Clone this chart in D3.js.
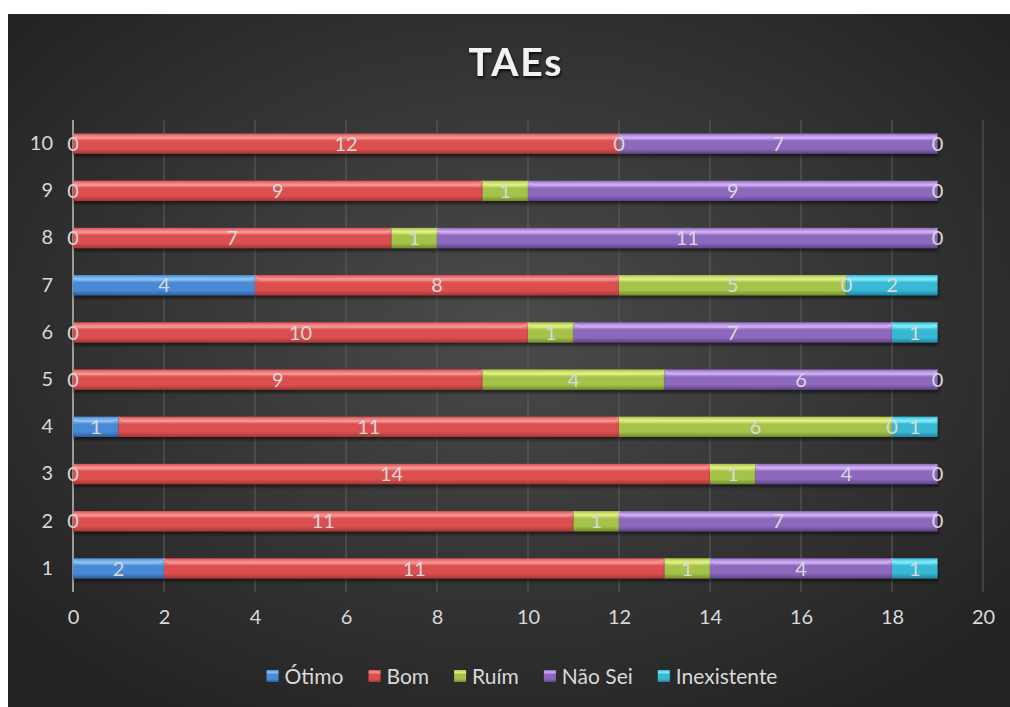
<!DOCTYPE html>
<html>
<head>
<meta charset="utf-8">
<script src="https://cdn.jsdelivr.net/npm/d3@7"></script>
<style>
  body { margin: 0; background: #ffffff; }
  text { font-family: Lato, "Open Sans", sans-serif; }
</style>
</head>
<body>
<div id="chart"></div>
<script>
// chart data
const categories = ["1", "2", "3", "4", "5", "6", "7", "8", "9", "10"];
const seriesNames = ["Ótimo", "Bom", "Ruím", "Não Sei", "Inexistente"];
const otimo = [2, 0, 0, 1, 0, 0, 4, 0, 0, 0];
const bom = [11, 11, 14, 11, 9, 10, 8, 7, 9, 12];
const ruim = [1, 1, 1, 6, 4, 1, 5, 1, 1, 0];
const naoSei = [4, 7, 4, 0, 6, 7, 0, 11, 9, 7];
const inexistente = [1, 0, 0, 1, 0, 1, 2, 0, 0, 0];
const xTicks = [0, 2, 4, 6, 8, 10, 12, 14, 16, 18, 20];

// colours: [top highlight, main, bottom]
const colors = {
    "Ótimo": ["#86c3f5", "#4a8ad6", "#2c5f9c"],
    "Bom": ["#f79292", "#dc4f4f", "#a83636"],
    "Ruím": ["#e2f27e", "#a5c24c", "#728c2e"],
    "Não Sei": ["#d1adf5", "#8d69bd", "#5f4388"],
    "Inexistente": ["#7beefc", "#37b8d4", "#1f86a0"]
};

const width = 1010;
const height = 707;
const margin = { left: 73, right: 27, top: 120, bottom: 115 };
const fontFam = "Lato, 'Open Sans', sans-serif";

let svg = d3.select("#chart")
    .append("svg")
    .attr("width", width)
    .attr("height", height);

let defs = svg.append("defs");

//background gradient
let bg = defs.append("radialGradient")
    .attr("id", "bg")
    .attr("cx", "50%").attr("cy", "45%").attr("r", "65%");
bg.append("stop").attr("offset", "0%").attr("stop-color", "#4b4b4b");
bg.append("stop").attr("offset", "100%").attr("stop-color", "#232323");

//bar gradients
seriesNames.forEach((name, i) => {
    let c = colors[name];
    let g = defs.append("linearGradient")
        .attr("id", "grad" + i)
        .attr("x1", 0).attr("y1", 0).attr("x2", 0).attr("y2", 1);
    g.append("stop").attr("offset", "0%").attr("stop-color", c[1]);
    g.append("stop").attr("offset", "18%").attr("stop-color", c[0]);
    g.append("stop").attr("offset", "38%").attr("stop-color", c[1]);
    g.append("stop").attr("offset", "75%").attr("stop-color", c[1]);
    g.append("stop").attr("offset", "100%").attr("stop-color", c[2]);
});

let shadow = defs.append("filter").attr("id", "shadow")
    .attr("x", "-5%").attr("y", "-20%").attr("width", "110%").attr("height", "160%");
shadow.append("feDropShadow")
    .attr("dx", 1).attr("dy", 3).attr("stdDeviation", 1.5)
    .attr("flood-color", "#000").attr("flood-opacity", 0.5);

let titleShadow = defs.append("filter").attr("id", "tshadow");
titleShadow.append("feDropShadow")
    .attr("dx", 1).attr("dy", 2).attr("stdDeviation", 1.5)
    .attr("flood-color", "#000").attr("flood-opacity", 0.8);

svg.append("rect")
    .attr("x", 8).attr("y", 14)
    .attr("width", width - 8).attr("height", height - 14)
    .attr("fill", "url(#bg)");

//title
svg.append("text")
    .attr("x", 516).attr("y", 76)
    .attr("text-anchor", "middle")
    .attr("font-size", 39)
    .attr("font-weight", "bold")
    .attr("letter-spacing", 2)
    .attr("fill", "#f2f2f2")
    .attr("filter", "url(#tshadow)")
    .text("TAEs");

//scales
let xScale = d3.scaleLinear()
    .domain([0, 20])
    .range([margin.left, width - margin.right]);
let yScale = d3.scaleBand()
    .domain(categories.slice().reverse())
    .range([margin.top, height - margin.bottom])
    .paddingInner(0.57)
    .paddingOuter(0.285);

//gridlines
svg.append("g")
    .selectAll("line")
    .data(xTicks.slice(1))
    .enter()
    .append("line")
    .attr("x1", d => xScale(d)).attr("x2", d => xScale(d))
    .attr("y1", margin.top).attr("y2", height - margin.bottom)
    .attr("stroke", "#5e5e5e")
    .attr("stroke-width", 1);

//x axis
let xAxis = svg.append("g")
    .attr("transform", "translate(0," + (height - margin.bottom) + ")")
    .call(d3.axisBottom(xScale).tickValues(xTicks).tickSize(0).tickPadding(18));
xAxis.select(".domain").remove();
xAxis.selectAll("text").attr("font-size", 20).attr("fill", "#d9d9d9")
    .attr("font-family", fontFam);

//y axis
let yAxis = svg.append("g")
    .attr("transform", "translate(" + margin.left + ",0)")
    .call(d3.axisLeft(yScale).tickSize(0).tickPadding(20));
yAxis.select(".domain").attr("stroke", "#9a9a9a").attr("stroke-width", 2)
    .attr("d", "M0," + margin.top + "V" + (height - margin.bottom));
yAxis.selectAll("text").attr("font-size", 20).attr("fill", "#d9d9d9")
    .attr("font-family", fontFam);

//stack data
const seriesValues = [otimo, bom, ruim, naoSei, inexistente];
let table = categories.map((c, i) => {
    let row = { cat: c };
    seriesNames.forEach((s, j) => { row[s] = seriesValues[j][i]; });
    return row;
});
let stacked = d3.stack().keys(seriesNames)(table);

let barH = yScale.bandwidth();

let layers = svg.append("g")
    .selectAll("g")
    .data(stacked)
    .enter()
    .append("g")
    .attr("fill", (d, i) => "url(#grad" + i + ")");

layers.selectAll("rect")
    .data(d => d.filter(p => p[1] - p[0] > 0))
    .enter()
    .append("rect")
    .attr("x", d => xScale(d[0]))
    .attr("y", d => yScale(d.data.cat))
    .attr("width", d => xScale(d[1]) - xScale(d[0]))
    .attr("height", barH)
    .attr("filter", "url(#shadow)");

//bevel edges on each segment
layers.selectAll("path")
    .data(d => d.filter(p => p[1] - p[0] > 0))
    .enter()
    .append("path")
    .attr("d", d => {
        let x0 = xScale(d[0]), x1 = xScale(d[1]), y = yScale(d.data.cat);
        let b = 5;
        return "M" + x0 + "," + y + "L" + (x0 + b) + "," + (y + b) + "L" + (x1 - b) + "," + (y + b) +
            "L" + x1 + "," + y;
    })
    .attr("fill", "none")
    .attr("stroke", "rgba(255,255,255,0.25)")
    .attr("stroke-width", 1);

//data labels, drawn above every bar so zero labels stay visible
let labels = svg.append("g")
    .selectAll("g")
    .data(stacked)
    .enter()
    .append("g");
labels.selectAll("text")
    .data(d => d)
    .enter()
    .append("text")
    .attr("x", d => xScale((d[0] + d[1]) / 2))
    .attr("y", d => yScale(d.data.cat) + barH / 2)
    .attr("dy", "0.36em")
    .attr("text-anchor", "middle")
    .attr("font-size", 20)
    .attr("fill", "#d9d9d9")
    .text(d => d[1] - d[0]);

//legend
let legend = svg.append("g").attr("transform", "translate(0,676)");
let items = legend.selectAll("g")
    .data(seriesNames)
    .enter()
    .append("g");
items.append("rect")
    .attr("width", 12).attr("height", 12)
    .attr("y", -6)
    .attr("fill", (d, i) => "url(#grad" + i + ")");
items.append("text")
    .attr("x", 18)
    .attr("dy", "0.36em")
    .attr("font-size", 21)
    .attr("fill", "#d9d9d9")
    .text(d => d);

let widths = [];
items.each(function () { widths.push(this.getBBox().width); });
let gap = 25;
let total = d3.sum(widths) + gap * (widths.length - 1);
let xPos = 522 - total / 2;
items.attr("transform", (d, i) => {
    let t = "translate(" + xPos + ",0)";
    xPos += widths[i] + gap;
    return t;
});
</script>
</body>
</html>
